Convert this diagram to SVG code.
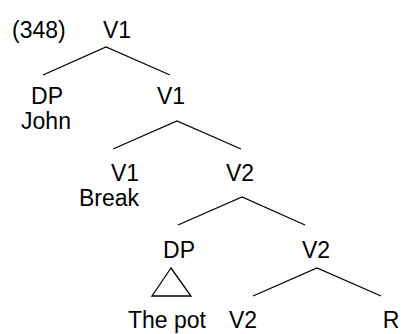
<svg xmlns="http://www.w3.org/2000/svg" width="405" height="334" viewBox="0 0 405 334">
<style>
text{font-family:"Liberation Sans",Arial,sans-serif;font-size:23px;fill:#000;text-anchor:middle}
.e{stroke:#000;stroke-width:1.3;fill:none}
</style>
<rect width="405" height="334" fill="#fff"/>
<g id="connectors">
<path class="e" d="M43,75 L106,47 L170,75"/>
<path class="e" d="M113,149 L177,121 L241,149"/>
<path class="e" d="M178,225 L242,197 L305,225"/>
<path class="e" d="M253,296 L317,268 L381,296"/>
<path class="e" d="M171,268 L152,296 L191,296 Z"/>
</g>
<g id="label"><text x="12" y="38" style="text-anchor:start">(348)</text></g>
<g id="n1"><text x="117" y="38">V1</text></g>
<g id="n2"><text x="47" y="104">DP</text><text x="46" y="129">John</text></g>
<g id="n3"><text x="171" y="104">V1</text></g>
<g id="n4"><text x="125" y="181">V1</text><text x="109" y="206">Break</text></g>
<g id="n5"><text x="240" y="181">V2</text></g>
<g id="n6"><text x="179" y="258">DP</text></g>
<g id="n7"><text x="167" y="328">The pot</text></g>
<g id="n8"><text x="316" y="258">V2</text></g>
<g id="n9"><text x="243" y="328">V2</text></g>
<g id="n10"><text x="391" y="328">R</text></g>
</svg>
